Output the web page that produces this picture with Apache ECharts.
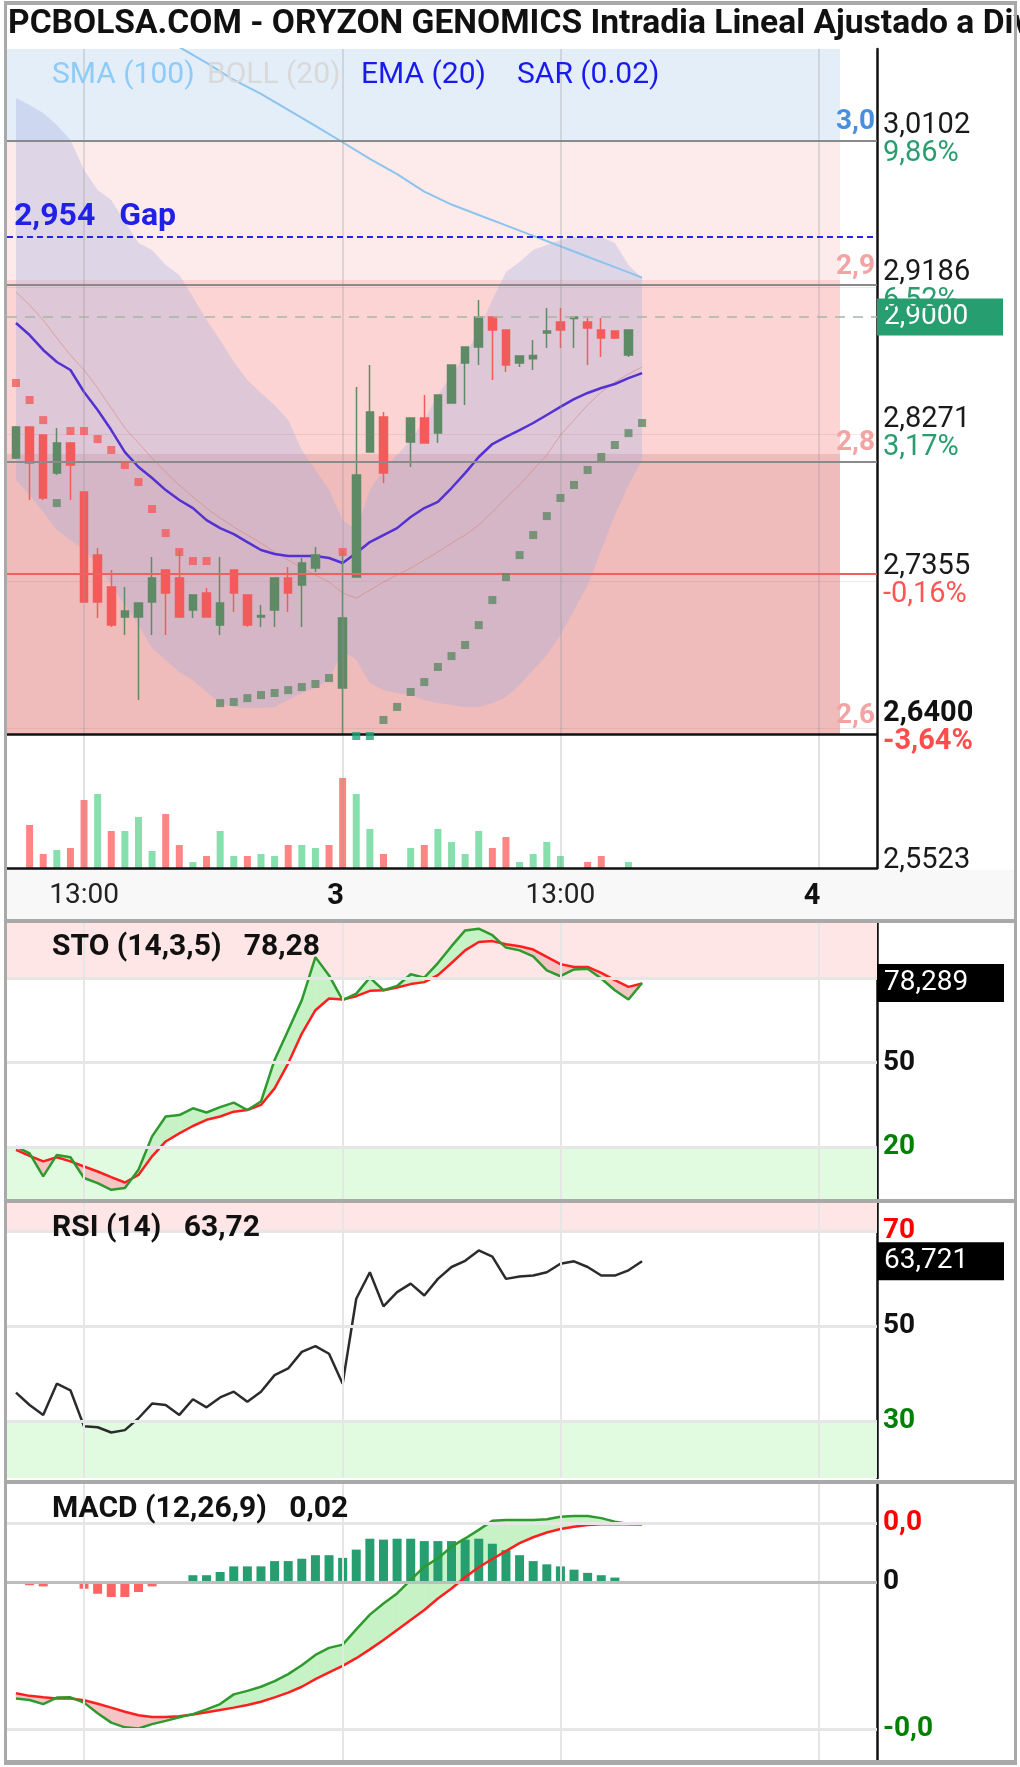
<!DOCTYPE html>
<html>
<head>
<meta charset="utf-8">
<script src="https://cdn.jsdelivr.net/npm/echarts@6/dist/echarts.min.js"></script>
<style>
  html, body { margin: 0; padding: 0; background: #fff; }
  #chart { width: 1020px; height: 1767px; }
</style>
</head>
<body>
<div id="chart"></div>
<script>
// 15 min slots: 0 = 11:45 day 2, 24 = 9:00 day 3, 59 = 9:00 day 4
const dayTicks = [5, 24, 40, 59];
const dayTickLabels = ['13:00', '3', '13:00', '4'];

// [open, close, low, high], null = no trade in that slot
const candles = [
  [2.8121, 2.8314, 2.8115, 2.8320], [2.8314, 2.8090, 2.7859, 2.8314], [2.8264, 2.7872, 2.7860, 2.8264],
  [2.8028, 2.8214, 2.8015, 2.8308], [2.8214, 2.8077, 2.7859, 2.8220], [2.7909, 2.7224, 2.7220, 2.7909],
  [2.7516, 2.7224, 2.7124, 2.7560], [2.7317, 2.7080, 2.7068, 2.7423], [2.7130, 2.7167, 2.7018, 2.7317],
  [2.7130, 2.7217, 2.6613, 2.7217], [2.7224, 2.7373, 2.7018, 2.7504], [2.7423, 2.7280, 2.7018, 2.7423],
  [2.7373, 2.7130, 2.7124, 2.7548], [2.7174, 2.7267, 2.7124, 2.7267], [2.7280, 2.7130, 2.7130, 2.7311],
  [2.7080, 2.7217, 2.7018, 2.7504], [2.7423, 2.7280, 2.7162, 2.7423], [2.7267, 2.7080, 2.7070, 2.7267],
  [2.7130, 2.7140, 2.7068, 2.7205], [2.7174, 2.7373, 2.7068, 2.7373], [2.7373, 2.7280, 2.7162, 2.7442],
  [2.7330, 2.7467, 2.7068, 2.7498], [2.7435, 2.7516, 2.7411, 2.7566], null,
  [2.6688, 2.7124, 2.6400, 2.7548], [2.7379, 2.8015, 2.7379, 2.8563], [2.8158, 2.8407, 2.8158, 2.8700],
  [2.8376, 2.8027, 2.7965, 2.8407], null, [2.8220, 2.8370, 2.8065, 2.8370],
  [2.8370, 2.8214, 2.8214, 2.8513], [2.8276, 2.8513, 2.8214, 2.8513], [2.8463, 2.8700, 2.8463, 2.8700],
  [2.8713, 2.8812, 2.8451, 2.8812], [2.8812, 2.8999, 2.8700, 2.9105], [2.8999, 2.8918, 2.8607, 2.8999],
  [2.8918, 2.8700, 2.8657, 2.8918], [2.8713, 2.8756, 2.8688, 2.8756], [2.8740, 2.8760, 2.8669, 2.8856],
  [2.8900, 2.8912, 2.8806, 2.9055], [2.8968, 2.8918, 2.8806, 2.9055], [2.8990, 2.9000, 2.8806, 2.9000],
  [2.8968, 2.8931, 2.8700, 2.8993], [2.8918, 2.8868, 2.8750, 2.8993], [2.8912, 2.8868, 2.8862, 2.8912],
  [2.8763, 2.8918, 2.8750, 2.8918]
];

// volume in thousands, 1 = up bar, 0 = down bar
const volumes = [0, 43, 14, 18, 20, 68, 74, 37, 37, 51, 17, 54, 23, 6, 12, 37, 12, 12, 14, 12, 23, 23, 20, 23,
  90, 74, 39, 14, 0, 20, 23, 39, 26, 14, 37, 20, 31, 6, 14, 26, 12, 0, 6, 12, 0, 6];
const volumeUp = [1, 0, 0, 1, 0, 0, 1, 0, 1, 1, 1, 0, 0, 1, 0, 1, 1, 0, 1, 1, 0, 1, 1, 0,
  0, 1, 1, 0, 1, 1, 0, 1, 1, 1, 1, 0, 0, 1, 1, 1, 1, 1, 0, 0, 1, 1];

const sar = [2.8588, 2.8482, 2.8357, 2.7840, 2.8289, 2.8289, 2.8239, 2.8171, 2.8077, 2.7971, 2.7803, 2.7653,
  2.7535, 2.7479, 2.7479, 2.6594, 2.6601, 2.6625, 2.6644, 2.6657, 2.6675, 2.6694, 2.6713, 2.6750,
  2.7535, 2.6389, 2.6389, 2.6489, 2.6570, 2.6663, 2.6725, 2.6819, 2.6887, 2.6956, 2.7080, 2.7236,
  2.7379, 2.7516, 2.7641, 2.7759, 2.7872, 2.7953, 2.8046, 2.8127, 2.8202, 2.8276, 2.8339];
const sarFlip = [25, 26];

const ema20 = [2.8962, 2.8887, 2.8794, 2.8719, 2.8669, 2.8532, 2.8420, 2.8295, 2.8158, 2.8065, 2.7996, 2.7921,
  2.7859, 2.7809, 2.7734, 2.7684, 2.7647, 2.7597, 2.7548, 2.7523, 2.7510, 2.7510, 2.7510, 2.7498,
  2.7467, 2.7529, 2.7597, 2.7641, 2.7684, 2.7753, 2.7809, 2.7847, 2.7934, 2.8027, 2.8127, 2.8208,
  2.8252, 2.8295, 2.8339, 2.8389, 2.8439, 2.8488, 2.8526, 2.8557, 2.8582, 2.8619, 2.8650];

const sma100 = [[10, 3.0781], [12, 3.0681], [14, 3.0582], [16, 3.0476], [18, 3.0390], [20, 3.0290],
  [22, 3.0190], [24, 3.0088], [26, 2.9985], [28, 2.9890], [30, 2.9780], [32, 2.9700], [34, 2.9635],
  [36, 2.9570], [38, 2.9505], [40, 2.9440], [42, 2.9375], [44, 2.9310], [46, 2.9245]];

const bollUpper = [3.0363, 3.0320, 3.0270, 3.0195, 3.0102, 2.9915, 2.9790, 2.9728, 2.9591, 2.9460, 2.9417, 2.9323,
  2.9261, 2.9124, 2.8980, 2.8856, 2.8719, 2.8607, 2.8526, 2.8451, 2.8357, 2.8171, 2.8046, 2.7921,
  2.7734, 2.7672, 2.7921, 2.8046, 2.8139, 2.8233, 2.8357, 2.8513, 2.8638, 2.8762, 2.8918, 2.9105,
  2.9279, 2.9342, 2.9417, 2.9448, 2.9479, 2.9498, 2.9498, 2.9498, 2.9460, 2.9323, 2.9242];
const bollMid = [2.9155, 2.9074, 2.8980, 2.8868, 2.8762, 2.8669, 2.8557, 2.8432, 2.8308, 2.8214, 2.8121, 2.8033,
  2.7952, 2.7878, 2.7809, 2.7747, 2.7691, 2.7641, 2.7591, 2.7535, 2.7485, 2.7435, 2.7392, 2.7348,
  2.7280, 2.7248, 2.7298, 2.7348, 2.7392, 2.7435, 2.7485, 2.7535, 2.7591, 2.7641, 2.7703, 2.7784,
  2.7872, 2.7953, 2.8046, 2.8139, 2.8264, 2.8357, 2.8451, 2.8532, 2.8594, 2.8644, 2.8688];
const bollLower = [2.7984, 2.7890, 2.7784, 2.7672, 2.7610, 2.7548, 2.7454, 2.7329, 2.7205, 2.7080, 2.6937, 2.6862,
  2.6787, 2.6738, 2.6663, 2.6594, 2.6569, 2.6563, 2.6563, 2.6569, 2.6613, 2.6657, 2.6688, 2.6738,
  2.6924, 2.6862, 2.6719, 2.6675, 2.6657, 2.6644, 2.6613, 2.6594, 2.6582, 2.6569, 2.6569, 2.6594,
  2.6632, 2.6706, 2.6800, 2.6893, 2.7018, 2.7174, 2.7329, 2.7548, 2.7766, 2.7953, 2.8108];

const stoK = [20.1, 17.7, 9.5, 17.1, 16.3, 8.9, 7.1, 4.7, 5.3, 11.8, 23.7, 30.8, 31.3, 33.7, 32.2, 34.1,
  35.7, 33.1, 36.1, 50.9, 61.5, 72.2, 87.5, 81.0, 72.2, 74.5, 80.2, 75.7, 77.2, 81.4, 80.2, 85.4,
  91.4, 97.0, 97.6, 95.3, 90.9, 89.9, 87.8, 82.8, 80.7, 83.1, 83.4, 79.9, 75.7, 72.4, 78.3];
const stoD = [18.9, 16.8, 14.8, 16.3, 14.8, 13.0, 11.2, 9.2, 7.3, 10.0, 16.6, 21.9, 24.8, 27.4, 29.6, 30.8,
  32.5, 33.1, 34.9, 40.8, 49.7, 60.3, 68.6, 72.8, 72.4, 73.6, 75.5, 75.7, 76.7, 77.9, 78.6, 81.1,
  85.4, 89.9, 92.9, 93.2, 92.1, 91.4, 90.2, 87.6, 85.0, 84.0, 84.0, 81.9, 79.3, 76.9, 78.1];

const rsi = [36.0, 33.4, 31.3, 37.9, 36.5, 28.9, 28.7, 27.6, 28.1, 30.6, 33.7, 33.4, 31.3, 34.6, 32.9, 35.0,
  36.2, 34.1, 36.2, 39.7, 41.1, 44.6, 45.8, 44.2, 37.9, 55.8, 61.4, 54.2, 57.2, 59.0, 56.5, 60.0,
  62.5, 63.8, 66.0, 64.7, 60.0, 60.5, 60.7, 61.4, 63.2, 63.7, 62.5, 60.7, 60.7, 61.8, 63.7];

const macd = [-0.0396, -0.0401, -0.0415, -0.0393, -0.0392, -0.0410, -0.0446, -0.0478, -0.0494, -0.0498,
  -0.0483, -0.0472, -0.0460, -0.0449, -0.0433, -0.0415, -0.0382, -0.0370, -0.0356, -0.0337, -0.0313,
  -0.0283, -0.0248, -0.0224, -0.0213, -0.0161, -0.0111, -0.0073, -0.0039, 0.0007, 0.0052, 0.0080,
  0.0120, 0.0148, 0.0177, 0.0208, 0.0211, 0.0211, 0.0211, 0.0213, 0.0222, 0.0224, 0.0224, 0.0217,
  0.0205, 0.0197, 0.0196];
const macdSignal = [-0.0378, -0.0387, -0.0392, -0.0396, -0.0396, -0.0402, -0.0414, -0.0427, -0.0441, -0.0453,
  -0.0459, -0.0459, -0.0456, -0.0450, -0.0443, -0.0435, -0.0427, -0.0418, -0.0407, -0.0392, -0.0376,
  -0.0356, -0.0330, -0.0307, -0.0285, -0.0259, -0.0229, -0.0197, -0.0163, -0.0129, -0.0095, -0.0056,
  -0.0022, 0.0016, 0.0050, 0.0078, 0.0105, 0.0132, 0.0152, 0.0168, 0.0180, 0.0188, 0.0194, 0.0196,
  0.0196, 0.0196, 0.0196];
const macdHist = [-0.0006, -0.0011, -0.0015, -0.0003, 0, -0.0023, -0.0040, -0.0051, -0.0051, -0.0034,
  -0.0015, 0, 0, 0.0023, 0.0023, 0.0034, 0.0053, 0.0053, 0.0053, 0.0071, 0.0071, 0.0079, 0.0091,
  0.0091, 0.0082, 0.0110, 0.0147, 0.0144, 0.0147, 0.0147, 0.0139, 0.0139, 0.0139, 0.0144, 0.0147,
  0.0130, 0.0108, 0.0091, 0.0071, 0.0060, 0.0053, 0.0042, 0.0031, 0.0023, 0.0015];

// price axis ticks
const priceMin = 2.5523, priceStep = 0.09158;
const priceTickText = ['2,5523', '2,6400', '2,7355', '2,8271', '2,9186', '3,0102'];
const priceTickPct = ['', '-3,64%', '-0,16%', '3,17%', '6,52%', '9,86%'];

// horizontal levels
const zoneEdges = [2.64, 2.8146, 2.9230, 3.0102];
const levelTags = ['2,6', '2,8', '2,9', '3,0'];
const prevClose = 2.74;
const gapPrice = 2.954;
const lastPrice = 2.9;
const stoLast = 78.289, rsiLast = 63.721;
const macdLevels = [0.022, 0, -0.049];
const macdLevelText = ['0,0', '0', '-0,0'];

const xMin = -0.66, xMax = 63.26, zoneEnd = 60.54, priceMax = 3.0669;
const UP = '#5e8a65', DOWN = '#f35b5b';

const chart = echarts.init(document.getElementById('chart'));

const idx = arr => arr.map((v, i) => [i, v]);

// filled area between two lines, green where a > b, red where a < b
function fillBetween(a, b, axis, upColor, downColor) {
  return {
    type: 'custom', xAxisIndex: axis, yAxisIndex: axis, silent: true, z: 2, clip: true,
    encode: { x: 0, y: [1, 2] },
    data: a.slice(0, -1).map((v, i) => [i, v, b[i]]),
    renderItem: (params, api) => {
      const i = api.value(0);
      const a0 = a[i], b0 = b[i], a1 = a[i + 1], b1 = b[i + 1];
      const d0 = a0 - b0, d1 = a1 - b1;
      const poly = (pts, color) => ({
        type: 'polygon', shape: { points: pts.map(p => api.coord(p)) },
        style: { fill: color, stroke: color, lineWidth: 0.6 }
      });
      const children = [];
      if (d0 * d1 < 0) {
        const t = d0 / (d0 - d1);
        const xc = i + t, yc = a0 + (a1 - a0) * t;
        children.push(poly([[i, a0], [xc, yc], [i, b0]], d0 > 0 ? upColor : downColor));
        children.push(poly([[xc, yc], [i + 1, a1], [i + 1, b1]], d1 > 0 ? upColor : downColor));
      } else {
        children.push(poly([[i, a0], [i + 1, a1], [i + 1, b1], [i, b0]], d0 + d1 >= 0 ? upColor : downColor));
      }
      return { type: 'group', children };
    }
  };
}

const gridLineStyle = { color: '#e6e6e6', width: 3, type: 'solid' };
const noLine = { color: 'rgba(0,0,0,0)', width: 0 };
const vLines = dayTicks.map(t => ({ xAxis: t, lineStyle: { color: '#e6e6e6', width: 2, type: 'solid' }, label: { show: false } }));
const sideLabel = (text, color) => ({
  show: true, position: 'end', distance: 6, formatter: text, color,
  fontSize: 28, fontWeight: 'bold', fontFamily: 'Roboto'
});
const valueBox = text => ({
  show: true, position: 'end', distance: 0, formatter: text, color: '#fff', backgroundColor: '#000',
  fontSize: 28, fontFamily: 'Roboto', padding: [5, 7, 4, 7], width: 113, lineHeight: 29
});

function panelFrame(axis, zones, hLines) {
  return {
    type: 'line', xAxisIndex: axis, yAxisIndex: axis, data: [], silent: true, z: 1,
    markArea: {
      silent: true,
      data: zones.map(zn => [{ xAxis: xMin, yAxis: zn[0], itemStyle: { color: zn[2] } }, { xAxis: xMax, yAxis: zn[1] }])
    },
    markLine: { silent: true, symbol: 'none', data: [...vLines, ...hLines] }
  };
}

const priceZoneColors = ['#efbbbb', '#fcd4d4', '#fdeaea', '#e3eef9'];
const priceZones = zoneEdges.map((e, i) => [
  { xAxis: xMin, yAxis: e, itemStyle: { color: priceZoneColors[i] } },
  { xAxis: zoneEnd, yAxis: i < zoneEdges.length - 1 ? zoneEdges[i + 1] : priceMax }
]);

const tagLabel = (text, color) => ({
  show: true, position: 'insideEndTop', distance: [2, 4], formatter: text, color,
  fontSize: 28, fontWeight: 'bold', fontFamily: 'Roboto'
});
const levelLines = [
  { yAxis: zoneEdges[3], lineStyle: { color: '#8a8a8a', width: 2, type: 'solid' }, label: tagLabel(levelTags[3], '#4a8fdc') },
  { yAxis: zoneEdges[2], lineStyle: { color: '#8a8a8a', width: 2, type: 'solid' }, label: tagLabel(levelTags[2], '#f4a3a3') },
  { yAxis: zoneEdges[1], lineStyle: { color: '#8a8a8a', width: 2, type: 'solid' }, label: tagLabel(levelTags[1], '#f4a3a3') },
  { yAxis: prevClose, lineStyle: { color: '#f06060', width: 2, type: 'solid' }, label: { show: false } },
  { yAxis: zoneEdges[0], lineStyle: { color: '#111', width: 2.5, type: 'solid' }, label: tagLabel(levelTags[0], '#f4a3a3') },
  {
    yAxis: gapPrice, lineStyle: { color: '#2424ee', width: 2, type: [6, 4] },
    label: { show: true, position: 'insideStartTop', distance: [7, 4], formatter: '2,954   Gap', color: '#2020e8', fontSize: 32, fontWeight: 'bold', fontFamily: 'Roboto' }
  },
  {
    yAxis: lastPrice, lineStyle: { color: '#a6b6a6', width: 1.5, type: [10, 8] },
    label: { show: true, position: 'end', distance: 0, formatter: '2,9000', color: '#fff', backgroundColor: '#279e70', fontSize: 28, fontFamily: 'Roboto', padding: [4, 7, 4, 7], width: 112, lineHeight: 29 }
  }
];

const sarColor = i => {
  if (sarFlip.includes(i)) return '#1fa67a';
  let j = Math.min(i, candles.length - 1);
  while (j > 0 && !candles[j]) j--;
  return sar[i] < candles[j][1] ? UP : DOWN;
};

const hiddenY = (g, mn, mx) => ({
  type: 'value', gridIndex: g, position: 'right', min: mn, max: mx,
  axisLine: { show: true, onZero: false, lineStyle: { color: '#111', width: 2.5 } },
  axisTick: { show: false }, axisLabel: { show: false }, splitLine: { show: false }
});

const option = {
  animation: false,
  backgroundColor: '#fff',
  textStyle: { fontFamily: 'Roboto' },
  grid: [
    { left: 7, right: 143, top: 49, height: 826 },
    { left: 7, right: 143, top: 49, height: 819 },
    { left: 7, right: 143, top: 922, height: 281 },
    { left: 7, right: 143, top: 1203, height: 275 },
    { left: 7, right: 143, top: 1484, height: 276 }
  ],
  xAxis: [0, 1, 2, 3, 4].map(g => g === 1 ? {
    type: 'value', gridIndex: 1, min: xMin, max: xMax, z: 5,
    axisLine: { show: true, onZero: false, lineStyle: { color: '#111', width: 2.5 } },
    axisTick: { show: false }, splitLine: { show: false },
    axisLabel: {
      customValues: dayTicks, margin: 14,
      formatter: v => {
        const k = dayTicks.indexOf(v);
        return k === 1 || k === 3 ? `{b|${dayTickLabels[k]}}` : `{n|${dayTickLabels[k]}}`;
      },
      rich: {
        n: { fontSize: 28, color: '#222', fontFamily: 'Roboto' },
        b: { fontSize: 29, color: '#111', fontWeight: 'bold', fontFamily: 'Roboto', padding: [0, 14, 0, 0] }
      }
    }
  } : { type: 'value', gridIndex: g, min: xMin, max: xMax, show: false }),
  yAxis: [
    {
      type: 'value', gridIndex: 0, position: 'right', min: priceMin, max: priceMax, interval: priceStep, z: 5,
      axisLine: { show: false, onZero: false }, axisTick: { show: false },
      splitLine: { show: true, showMinLine: false, showMaxLine: false, lineStyle: { color: 'rgba(190,120,120,0.18)', width: 1 } },
      axisLabel: {
        margin: 6, showMaxLabel: false,
        formatter: v => {
          const k = Math.round((v - priceMin) / priceStep);
          if (priceTickText[k] == null) return '';
          const pct = priceTickPct[k];
          const bold = k === 1;
          const ps = bold ? 'pb' : 'p';
          const cs = pct.startsWith('-') ? (bold ? 'rb' : 'r') : 'g';
          return `{${ps}|${priceTickText[k]}}\n{${cs}|${pct || ' '}}`;
        },
        rich: {
          p: { fontSize: 29, color: '#1a1a1a', lineHeight: 28, fontFamily: 'Roboto' },
          pb: { fontSize: 29, color: '#111', fontWeight: 'bold', lineHeight: 28, fontFamily: 'Roboto' },
          g: { fontSize: 29, color: '#2a9d6f', lineHeight: 28, fontFamily: 'Roboto' },
          r: { fontSize: 29, color: '#ff5555', lineHeight: 28, fontFamily: 'Roboto' },
          rb: { fontSize: 29, color: '#ff4d4d', fontWeight: 'bold', lineHeight: 28, fontFamily: 'Roboto' }
        }
      }
    },
    hiddenY(1, 0, 819),
    hiddenY(2, 0, 100),
    hiddenY(3, 18, 76),
    hiddenY(4, -0.0605, 0.0333)
  ],
  graphic: [
    { type: 'rect', z: 1, shape: { x: 7, y: 870, width: 1007, height: 49 }, style: { fill: '#f8f8f8' } },
    { type: 'text', z: 50, x: 8, y: 25, style: { text: 'PCBOLSA.COM - ORYZON GENOMICS Intradia Lineal Ajustado a Div', font: 'bold 33.6px Roboto', fill: '#111', verticalAlign: 'middle' } },
    { type: 'text', z: 50, x: 52, y: 75, style: { text: 'SMA (100)', font: '30px Roboto', fill: '#8ecbf6', verticalAlign: 'middle' } },
    { type: 'text', z: 50, x: 207, y: 75, style: { text: 'BOLL (20)', font: '30px Roboto', fill: '#d9d9d9', verticalAlign: 'middle' } },
    { type: 'text', z: 50, x: 361, y: 75, style: { text: 'EMA (20)', font: '30px Roboto', fill: '#1a1af0', verticalAlign: 'middle' } },
    { type: 'text', z: 50, x: 517, y: 75, style: { text: 'SAR (0.02)', font: '30px Roboto', fill: '#1a1af0', verticalAlign: 'middle' } },
    { type: 'text', z: 50, x: 52, y: 947, style: { text: 'STO (14,3,5)   78,28', font: 'bold 30px Roboto', fill: '#111', verticalAlign: 'middle' } },
    { type: 'text', z: 50, x: 52, y: 1228, style: { text: 'RSI (14)   63,72', font: 'bold 30px Roboto', fill: '#111', verticalAlign: 'middle' } },
    { type: 'text', z: 50, x: 52, y: 1509, style: { text: 'MACD (12,26,9)   0,02', font: 'bold 30px Roboto', fill: '#111', verticalAlign: 'middle' } },
    // frame and panel separators
    ...[[4, 1, 1013, 4], [4, 1, 3, 1764], [1014, 1, 3, 1764], [4, 1760, 1013, 5],
      [4, 919, 1013, 4], [4, 1199, 1013, 4], [4, 1480, 1013, 4]].map(([x, y, w, h]) => ({
      type: 'rect', z: 60, shape: { x, y, width: w, height: h }, style: { fill: '#a9a9a9' }
    }))
  ],
  series: [
    // price background zones
    {
      type: 'line', xAxisIndex: 0, yAxisIndex: 0, data: [], silent: true, z: 0,
      markArea: { silent: true, data: priceZones }
    },
    // vertical day lines through price and volume
    {
      type: 'line', xAxisIndex: 1, yAxisIndex: 1, data: [], silent: true, z: 1,
      markLine: { silent: true, symbol: 'none', data: dayTicks.map(t => ({ xAxis: t, lineStyle: { color: 'rgba(150,150,150,0.28)', width: 2, type: 'solid' }, label: { show: false } })) }
    },
    // Bollinger band as one polygon
    {
      name: 'BOLL', type: 'custom', xAxisIndex: 0, yAxisIndex: 0, silent: true, z: 1, clip: true,
      encode: { x: 0, y: [1, 2] },
      data: [[0, bollUpper[0], bollLower[0]]],
      renderItem: (params, api) => {
        const pts = bollUpper.map((v, i) => api.coord([i, v]))
          .concat(bollLower.map((v, i) => api.coord([i, v])).reverse());
        return { type: 'polygon', shape: { points: pts }, style: { fill: 'rgba(160,172,220,0.32)' } };
      }
    },
    {
      type: 'line', xAxisIndex: 0, yAxisIndex: 0, symbol: 'none', silent: true, z: 2,
      lineStyle: { color: 'rgba(215,130,110,0.55)', width: 1 }, data: idx(bollMid),
      markLine: { silent: true, symbol: 'none', data: levelLines }
    },
    {
      name: 'SMA (100)', type: 'line', xAxisIndex: 0, yAxisIndex: 0, symbol: 'none', z: 3,
      lineStyle: { color: '#8cc4ee', width: 2 }, data: sma100
    },
    {
      name: 'EMA (20)', type: 'line', xAxisIndex: 0, yAxisIndex: 0, symbol: 'none', z: 3,
      lineStyle: { color: '#5431d2', width: 2.5 }, data: idx(ema20)
    },
    {
      type: 'candlestick', xAxisIndex: 0, yAxisIndex: 0, z: 4, barWidth: 8,
      encode: { x: 0, y: [1, 2, 3, 4] },
      itemStyle: { color: UP, color0: DOWN, borderColor: UP, borderColor0: DOWN, borderWidth: 1.5 },
      data: candles.map((c, i) => c ? [i, ...c] : null).filter(Boolean)
    },
    {
      name: 'SAR (0.02)', type: 'scatter', xAxisIndex: 0, yAxisIndex: 0, symbol: 'rect', symbolSize: 8, z: 5,
      data: sar.map((v, i) => ({ value: [i, v], itemStyle: { color: sarColor(i) } }))
    },
    {
      type: 'bar', xAxisIndex: 1, yAxisIndex: 1, barWidth: 7, z: 3,
      data: volumes.map((v, i) => v ? { value: [i, v], itemStyle: { color: volumeUp[i] ? '#86dfac' : '#ff8585' } } : null).filter(Boolean)
    },

    // STO panel
    panelFrame(2, [[80, 100, '#ffe6e6'], [0, 20, '#e1fbe1']], [
      { yAxis: 80, lineStyle: gridLineStyle, label: { show: false } },
      { yAxis: 50, lineStyle: gridLineStyle, label: sideLabel('50', '#111') },
      { yAxis: 20, lineStyle: gridLineStyle, label: sideLabel('20', '#008000') },
      { yAxis: stoLast, lineStyle: noLine, label: valueBox('78,289') }
    ]),
    fillBetween(stoK, stoD, 2, '#c6f2c6', '#f5c4c4'),
    { type: 'line', xAxisIndex: 2, yAxisIndex: 2, symbol: 'none', z: 3, lineStyle: { color: '#ff1f1f', width: 2.5 }, data: idx(stoD) },
    { type: 'line', xAxisIndex: 2, yAxisIndex: 2, symbol: 'none', z: 3, lineStyle: { color: '#2e9a2e', width: 2.5 }, data: idx(stoK) },

    // RSI panel
    panelFrame(3, [[70, 76, '#ffe6e6'], [18, 30, '#e1fbe1']], [
      { yAxis: 70, lineStyle: gridLineStyle, label: sideLabel('70', '#ff0000') },
      { yAxis: 50, lineStyle: gridLineStyle, label: sideLabel('50', '#111') },
      { yAxis: 30, lineStyle: gridLineStyle, label: sideLabel('30', '#008000') },
      { yAxis: rsiLast, lineStyle: noLine, label: valueBox('63,721') }
    ]),
    { type: 'line', xAxisIndex: 3, yAxisIndex: 3, symbol: 'none', z: 3, lineStyle: { color: '#2b2b2b', width: 2.5 }, data: idx(rsi) },

    // MACD panel
    panelFrame(4, [], [
      { yAxis: macdLevels[0], lineStyle: gridLineStyle, label: sideLabel(macdLevelText[0], '#ff0000') },
      { yAxis: macdLevels[1], lineStyle: { color: '#bdbdbd', width: 3, type: 'solid' }, label: sideLabel(macdLevelText[1], '#111') },
      { yAxis: macdLevels[2], lineStyle: gridLineStyle, label: sideLabel(macdLevelText[2], '#008000') }
    ]),
    {
      type: 'bar', xAxisIndex: 4, yAxisIndex: 4, barWidth: 9, z: 2,
      data: macdHist.map((v, i) => ({ value: [i, v], itemStyle: { color: v < 0 ? '#ff6464' : '#279e70' } }))
    },
    fillBetween(macd, macdSignal, 4, '#c6f2c6', '#f5c4c4'),
    { type: 'line', xAxisIndex: 4, yAxisIndex: 4, symbol: 'none', z: 3, lineStyle: { color: '#ff1f1f', width: 2.5 }, data: idx(macdSignal) },
    { type: 'line', xAxisIndex: 4, yAxisIndex: 4, symbol: 'none', z: 3, lineStyle: { color: '#2e9a2e', width: 2.5 }, data: idx(macd) }
  ]
};

chart.setOption(option);
</script>
</body>
</html>
